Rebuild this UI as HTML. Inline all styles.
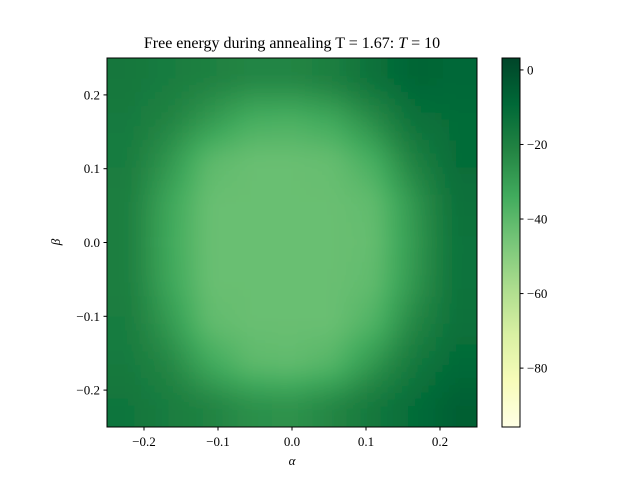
<!DOCTYPE html>
<html><head><meta charset="utf-8"><style>
body{margin:0;background:#fff}
svg text{font-family:"Liberation Serif",serif;fill:#000}
</style></head><body>
<svg width="640" height="480">
<defs>
<filter id="blur" filterUnits="userSpaceOnUse" x="0" y="0" width="640" height="480"><feGaussianBlur stdDeviation="8"/></filter>
<clipPath id="clip"><rect x="107" y="58" width="370" height="369"/></clipPath>
<linearGradient id="cbar" x1="0" y1="1" x2="0" y2="0">
<stop offset="0" stop-color="#ffffe5"/><stop offset=".125" stop-color="#f7fcb9"/><stop offset=".25" stop-color="#d9f0a3"/><stop offset=".375" stop-color="#addd8e"/><stop offset=".5" stop-color="#78c679"/><stop offset=".625" stop-color="#41ab5d"/><stop offset=".75" stop-color="#238443"/><stop offset=".875" stop-color="#006837"/><stop offset="1" stop-color="#004529"/>
</linearGradient>
</defs>
<text x="292" y="48" font-size="16" text-anchor="middle">Free energy during annealing T = 1.67: <tspan font-style="italic">T</tspan> = 10</text>
<g clip-path="url(#clip)"><g id="cells" filter="url(#blur)"></g></g>
<rect x="107" y="58" width="370" height="369" fill="none" stroke="#000" stroke-width="1"/>
<g id="axes"></g>
<text x="292" y="465" font-size="13" font-style="italic" text-anchor="middle">α</text>
<text x="60" y="242" font-size="13" font-style="italic" text-anchor="middle" transform="rotate(-90 60 242)">β</text>
<rect x="502" y="58" width="18" height="369" fill="url(#cbar)" stroke="#000" stroke-width="1"/>
<g id="cbticks"></g>
</svg>
<script>
const grid=[
[-16,-18,-20,-22,-22,-19,-13,-8,-9],
[-17,-21,-28,-35,-36,-33,-24,-13,-11],
[-18,-27,-40,-43,-43,-42,-35,-20,-11],
[-19,-32,-43,-43,-43,-43,-41,-27,-13],
[-19,-33,-43,-43,-43,-43,-42,-28,-14],
[-19,-32,-43,-43,-43,-43,-41,-27,-14],
[-18,-28,-41,-43,-43,-43,-37,-22,-13],
[-17,-22,-33,-40,-41,-38,-27,-16,-10],
[-15,-18,-21,-25,-26,-22,-16,-11,-6]];
const xTicks=[-0.2,-0.1,0.0,0.1,0.2];
const yTicks=[0.2,0.1,0.0,-0.1,-0.2];
const cbTicks=[0,-20,-40,-60,-80];
const vmin=-95.8, vmax=3.2;
const stops=["#ffffe5","#f7fcb9","#d9f0a3","#addd8e","#78c679","#41ab5d","#238443","#006837","#004529"];
const NS="http://www.w3.org/2000/svg";
const X=v=>292+v*740, Y=v=>242.5-v*738, CB=v=>58+(vmax-v)/(vmax-vmin)*369;
function hex(h){return [1,3,5].map(i=>parseInt(h.substr(i,2),16));}
function color(v){let t=Math.max(0,Math.min(1,(v-vmin)/(vmax-vmin)))*8;let i=Math.min(7,Math.floor(t)),f=t-i;
const a=hex(stops[i]),b=hex(stops[i+1]);return "rgb("+a.map((c,k)=>Math.round(c+(b[k]-c)*f)).join(",")+")";}
function mk(tag,attrs,p){const e=document.createElementNS(NS,tag);for(const k in attrs)e.setAttribute(k,attrs[k]);p.appendChild(e);return e;}
const cells=document.getElementById('cells');
const n=grid.length, S=6;
function sample(r,c){r=Math.max(0,Math.min(n-1,r));c=Math.max(0,Math.min(n-1,c));
const r0=Math.floor(r),c0=Math.floor(c),r1=Math.min(n-1,r0+1),c1=Math.min(n-1,c0+1),fr=r-r0,fc=c-c0;
return grid[r0][c0]*(1-fr)*(1-fc)+grid[r0][c1]*(1-fr)*fc+grid[r1][c0]*fr*(1-fc)+grid[r1][c1]*fr*fc;}
const m=n*S, sw=370/m, sh=369/m;
for(let i=-4;i<m+4;i++)for(let j=-4;j<m+4;j++){
const v=sample((i+0.5)/S-0.5,(j+0.5)/S-0.5);
const e=mk('rect',{x:107+j*sw-0.3,y:58+i*sh-0.3,width:sw+0.6,height:sh+0.6,fill:color(v)},cells);


}
const ax=document.getElementById('axes');
xTicks.forEach(t=>{const x=X(t);mk('line',{x1:x,x2:x,y1:427,y2:430.5,stroke:'#000'},ax);
const e=mk('text',{x:x,y:446,'font-size':13,'text-anchor':'middle'},ax);e.textContent=(t<0?'−':'')+Math.abs(t).toFixed(1);

});
yTicks.forEach(t=>{const y=Y(t);mk('line',{x1:103.5,x2:107,y1:y,y2:y,stroke:'#000'},ax);
const e=mk('text',{x:100,y:y+4.5,'font-size':13,'text-anchor':'end'},ax);e.textContent=(t<0?'−':'')+Math.abs(t).toFixed(1);

});
const cb=document.getElementById('cbticks');
cbTicks.forEach(t=>{const y=CB(t);mk('line',{x1:520,x2:523.5,y1:y,y2:y,stroke:'#000'},cb);
const e=mk('text',{x:527,y:y+4.5,'font-size':13},cb);e.textContent=(t<0?'−':'')+Math.abs(t);

});
</script>
</body></html>
